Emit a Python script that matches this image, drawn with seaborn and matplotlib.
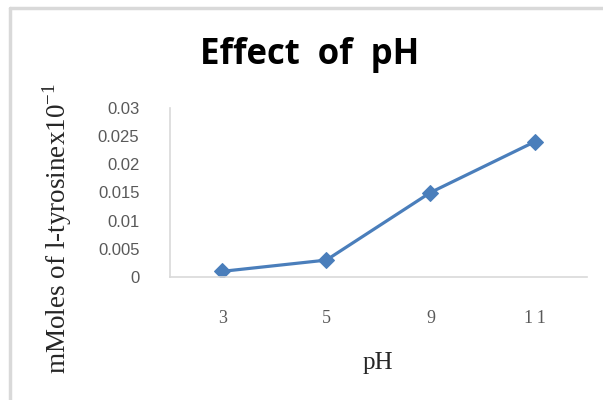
import matplotlib
matplotlib.use('Agg')
import matplotlib.pyplot as plt
import seaborn as sns
import pandas as pd
from matplotlib.lines import Line2D

# data
ph_values = ['3', '5', '9', '11']
tyrosine = [0.001, 0.003, 0.015, 0.024]
y_ticks = [0, 0.005, 0.01, 0.015, 0.02, 0.025, 0.03]
y_tick_labels = ['0', '0.005', '0.01', '0.015', '0.02', '0.025', '0.03']

df = pd.DataFrame({'pH': ph_values, 'tyrosine': tyrosine})

sns.set_style('white')
line_color = '#4a7ebb'
grey = '#d9d9d9'

fig = plt.figure(figsize=(6.03, 4.0), dpi=100)
ax = fig.add_axes([0.282, 0.3075, 0.691, 0.4225])

sns.lineplot(data=df, x='pH', y='tyrosine', ax=ax, color=line_color,
             linewidth=2.3, marker='D', markersize=8, markeredgecolor=line_color,
             sort=False)

ax.set_xlim(-0.5, 3.5)
ax.set_ylim(0, 0.03)
ax.set_yticks(y_ticks)
ax.set_yticklabels(y_tick_labels, fontfamily='Liberation Sans', fontsize=12,
                   color='#595959')
ax.set_xticks(range(len(ph_values)))
ax.set_xticklabels(['3', '5', '9', '1\u20091'], fontfamily='Liberation Serif',
                   fontsize=13, color='#595959')
ax.tick_params(axis='y', length=0, pad=22)
ax.tick_params(axis='x', length=0, pad=24)

for side in ['top', 'right']:
    ax.spines[side].set_visible(False)
for side in ['left', 'bottom']:
    ax.spines[side].set_color(grey)
    ax.spines[side].set_linewidth(1.2)

ax.set_xlabel('pH', fontfamily='Liberation Serif', fontsize=18, labelpad=18)
ax.set_ylabel('mMoles of l-tyrosinex10$^{\\mathregular{-1}}$',
              fontfamily='Liberation Serif', fontsize=19.5)
ax.yaxis.set_label_coords(-0.23, 0.29)

fig.text(0.513, 0.862, 'Effect  of  pH', ha='center', va='center',
         fontfamily='Open Sans', fontweight='bold', fontsize=25, color='black')

# outer chart border (only top and left visible in the crop)
fig.add_artist(Line2D([0.016, 1.0], [0.98, 0.98], color=grey, linewidth=2.5,
                      transform=fig.transFigure))
fig.add_artist(Line2D([0.016, 0.016], [0.0, 0.98], color=grey, linewidth=2.5,
                      transform=fig.transFigure))

fig.savefig('out.png', dpi=100)
